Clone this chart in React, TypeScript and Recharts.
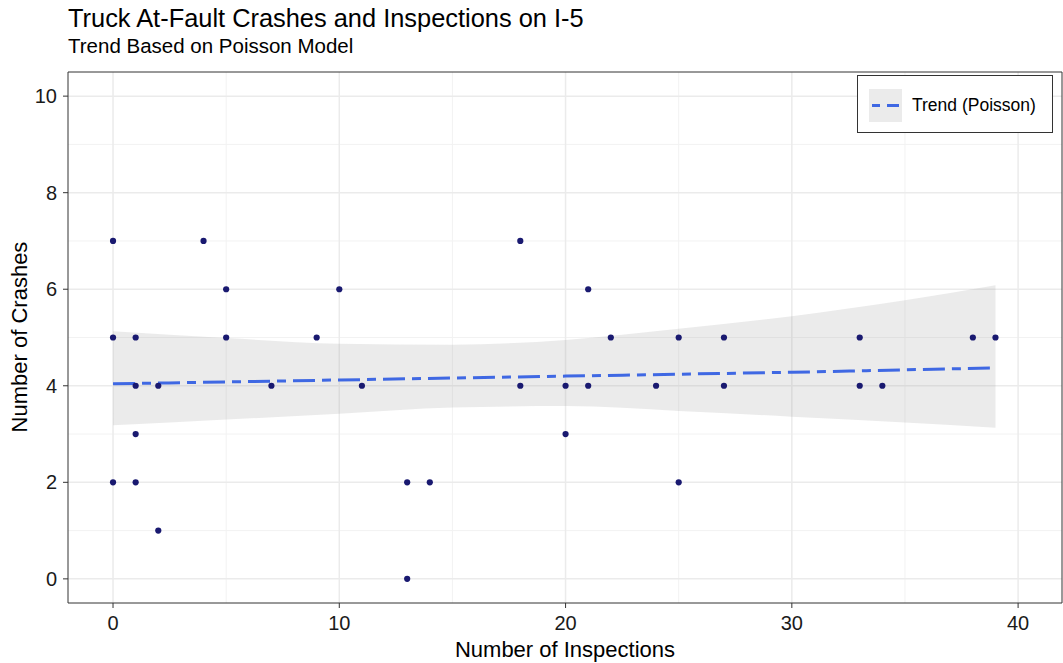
import {
  CartesianGrid,
  ComposedChart,
  Area,
  Line,
  Scatter,
  XAxis,
  YAxis,
  ReferenceArea,
} from 'recharts'

// observed (inspections, crashes) pairs
const inspections = [0, 0, 0, 1, 1, 1, 1, 2, 2, 4, 5, 5, 7, 9, 10, 11, 13, 13, 14, 18, 18, 20, 20, 21, 21, 22, 24, 25, 25, 27, 27, 33, 33, 34, 38, 39]
const crashes = [7, 5, 2, 5, 4, 3, 2, 4, 1, 7, 6, 5, 4, 5, 6, 4, 2, 0, 2, 7, 4, 4, 3, 6, 4, 5, 4, 5, 2, 5, 4, 5, 4, 4, 5, 5]

// poisson trend and its confidence band
const trendX = [0, 5, 10, 15, 20, 25, 30, 35, 39]
const trendFit = [4.04, 4.08, 4.12, 4.16, 4.2, 4.24, 4.28, 4.33, 4.37]
const bandLow = [3.18, 3.3, 3.42, 3.55, 3.58, 3.48, 3.36, 3.24, 3.13]
const bandHigh = [5.13, 4.99, 4.87, 4.85, 4.95, 5.18, 5.44, 5.77, 6.08]

const xTicks = [0, 10, 20, 30, 40]
const yTicks = [0, 2, 4, 6, 8, 10]
const xMinor = [5, 15, 25, 35]
const yMinor = [1, 3, 5, 7, 9]

const points = inspections.map((x, i) => ({ x, y: crashes[i] }))
const trend = trendX.map((x, i) => ({ x, fit: trendFit[i], band: [bandLow[i], bandHigh[i]] }))

const FONT = '"Liberation Sans", Arial, sans-serif'
const BLUE = '#3f68e3'
const X_DOMAIN: [number, number] = [-1.99, 41.94]
const Y_DOMAIN: [number, number] = [-0.5, 10.5]

const Dot = (props: any) => <circle cx={props.cx} cy={props.cy} r={3.1} fill="#191970" />

export default function App() {
  return (
    <div style={{ position: 'absolute', left: 0, top: 0, width: 1063, height: 663, background: '#fff', fontFamily: FONT }}>
      <ComposedChart
        width={1063}
        height={663}
        margin={{ top: 72, right: 1, bottom: 0, left: 0 }}
        style={{ position: 'absolute', left: 0, top: 0 }}
      >
        <CartesianGrid horizontalValues={yMinor} verticalValues={xMinor} stroke="#f2f2f2" strokeWidth={1} />
        <CartesianGrid horizontalValues={yTicks} verticalValues={xTicks} stroke="#ebebeb" strokeWidth={1.5} />
        <XAxis
          dataKey="x"
          type="number"
          domain={X_DOMAIN}
          ticks={xTicks}
          allowDataOverflow
          height={60}
          tickSize={5}
          tickMargin={8}
          axisLine={false}
          tickLine={{ stroke: '#333' }}
          tick={{ fill: '#1a1a1a', fontSize: 20, fontFamily: FONT }}
        />
        <YAxis
          type="number"
          domain={Y_DOMAIN}
          ticks={yTicks}
          allowDataOverflow
          width={68}
          tickSize={5}
          tickMargin={6}
          axisLine={false}
          tickLine={{ stroke: '#333' }}
          tick={{ fill: '#1a1a1a', fontSize: 20, fontFamily: FONT }}
        />
        <Scatter data={points} dataKey="y" shape={Dot} isAnimationActive={false} />
        <Area
          data={trend}
          dataKey="band"
          type="monotone"
          stroke="none"
          fill="#999999"
          fillOpacity={0.2}
          isAnimationActive={false}
        />
        <Line
          data={trend}
          dataKey="fit"
          type="monotone"
          stroke={BLUE}
          strokeWidth={3}
          strokeDasharray="22 7 9 7"
          dot={false}
          activeDot={false}
          isAnimationActive={false}
        />
        <ReferenceArea
          x1={X_DOMAIN[0]}
          x2={X_DOMAIN[1]}
          y1={Y_DOMAIN[0]}
          y2={Y_DOMAIN[1]}
          fill="none"
          stroke="#333"
          strokeWidth={1}
          ifOverflow="visible"
        />
      </ComposedChart>

      <svg width={1063} height={663} style={{ position: 'absolute', left: 0, top: 0, pointerEvents: 'none' }}>
        <text x={68} y={27} fontSize={25.4} fill="#000" fontFamily={FONT}>
          Truck At-Fault Crashes and Inspections on I-5
        </text>
        <text x={68} y={53} fontSize={20.5} fill="#000" fontFamily={FONT}>
          Trend Based on Poisson Model
        </text>
        <text x={565} y={657} fontSize={22} fill="#000" fontFamily={FONT} textAnchor="middle">
          Number of Inspections
        </text>
        <text
          x={27}
          y={337}
          fontSize={22}
          fill="#000"
          fontFamily={FONT}
          textAnchor="middle"
          transform="rotate(-90 27 337)"
        >
          Number of Crashes
        </text>
        <rect x={857.5} y={75.5} width={195} height={57} fill="#fff" stroke="#333" strokeWidth={1} />
        <rect x={869} y={89} width={33} height={33} fill="#ebebeb" />
        <line x1={872} y1={105.5} x2={899} y2={105.5} stroke={BLUE} strokeWidth={3} strokeDasharray="8 7 10 0" />
        <text x={912} y={111} fontSize={17.5} fill="#000" fontFamily={FONT}>
          Trend (Poisson)
        </text>
      </svg>
    </div>
  )
}
